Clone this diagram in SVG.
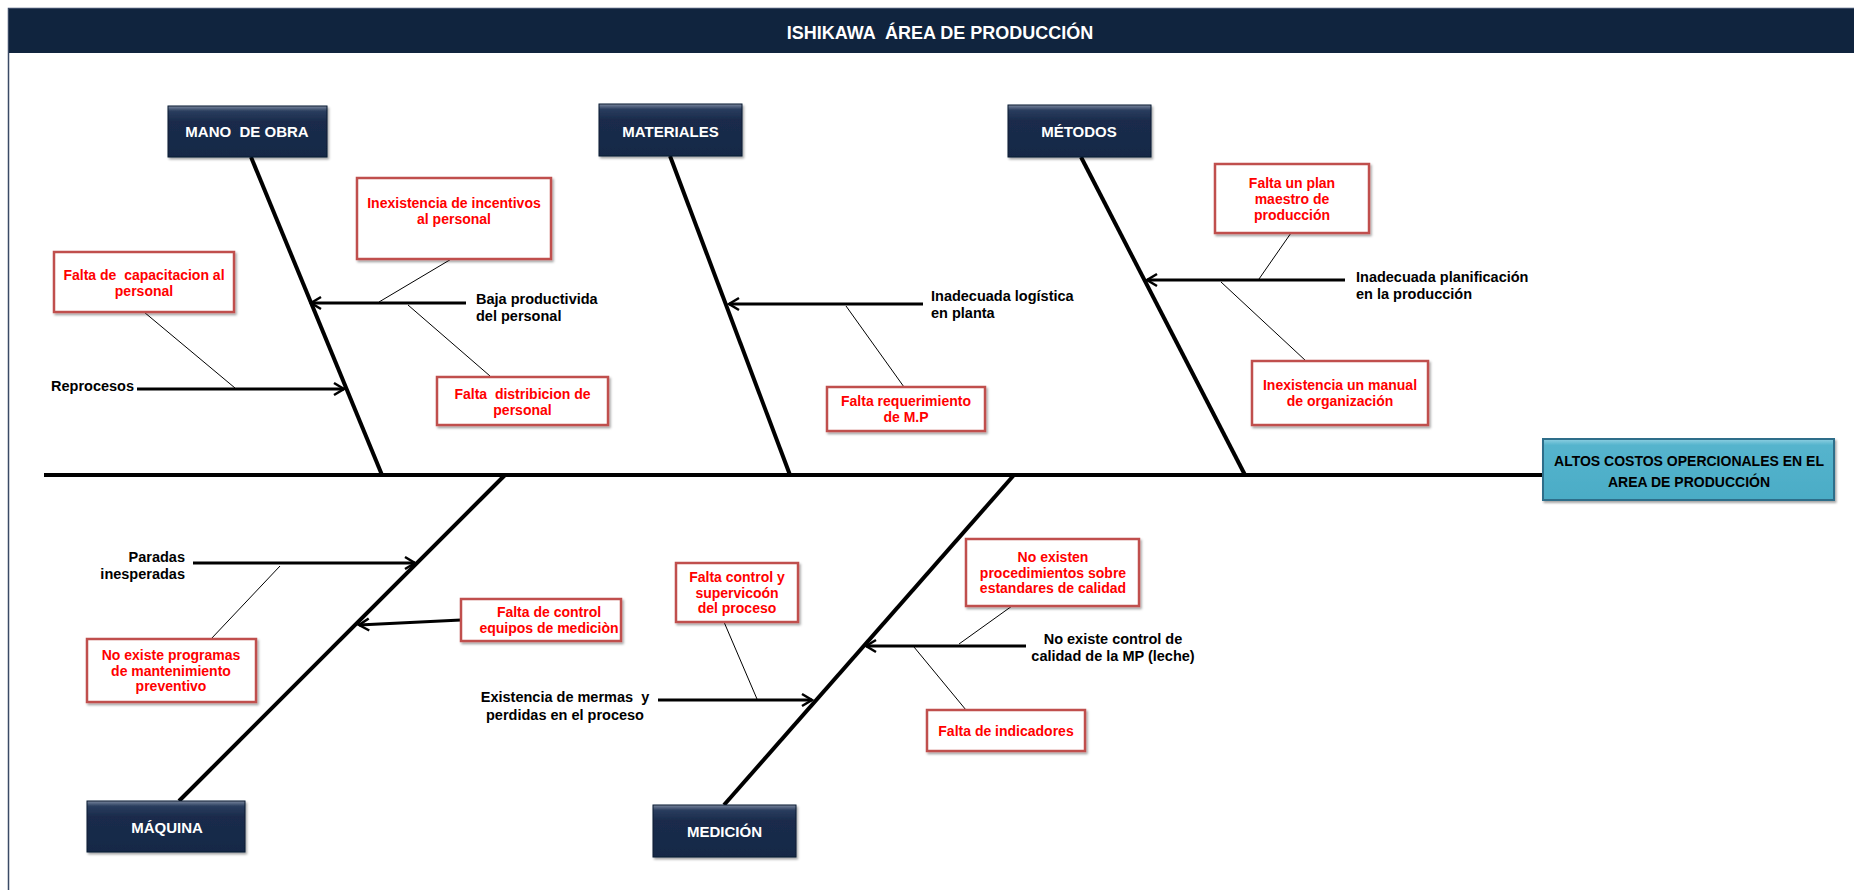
<svg xmlns="http://www.w3.org/2000/svg" width="1854" height="890" viewBox="0 0 1854 890">
<style>
text{font-family:"Liberation Sans",Arial,sans-serif;font-weight:bold;white-space:pre}
.cat rect{fill:url(#catGrad);stroke:#0d1a30;stroke-width:1}
.cat text{fill:#fff;font-size:15px;text-anchor:middle}
.cause rect{fill:#fff;stroke:#C0504D;stroke-width:2.5}
.cause text{fill:#FF0000;font-size:14px;text-anchor:middle}
.lbl{fill:#000;font-size:14.5px}
.bone{stroke:#000;stroke-width:4;fill:none;stroke-linecap:butt}
.arrow{stroke:#000;stroke-width:3;fill:none;marker-end:url(#ah)}
.thin{stroke:#000;stroke-width:1;fill:none}
</style>
<defs>
<linearGradient id="catGrad" x1="0" y1="0" x2="0" y2="1">
<stop offset="0" stop-color="#7a889f"/>
<stop offset="0.1" stop-color="#2a3d5e"/>
<stop offset="0.3" stop-color="#1a2c4c"/>
<stop offset="1" stop-color="#172846"/>
</linearGradient>
<linearGradient id="effGrad" x1="0" y1="0" x2="0" y2="1">
<stop offset="0" stop-color="#8fd0e2"/>
<stop offset="0.1" stop-color="#55b4cd"/>
<stop offset="1" stop-color="#4BACC6"/>
</linearGradient>
<filter id="sh" x="-10%" y="-10%" width="130%" height="140%">
<feDropShadow dx="1.5" dy="2" stdDeviation="1.2" flood-color="#000" flood-opacity="0.35"/>
</filter>
<marker id="ah" viewBox="-13 -8 15 16" markerWidth="15" markerHeight="16" refX="0" refY="0" orient="auto" markerUnits="userSpaceOnUse">
<path d="M-10,-6 L0,0 L-10,6" fill="none" stroke="#000" stroke-width="2.5"/>
</marker>
</defs>
<rect x="0" y="0" width="1854" height="890" fill="#fff"/>
<rect x="8.5" y="8.5" width="1860" height="900" fill="none" stroke="#3a4a66" stroke-width="1.5"/>
<g id="title">
<rect x="9" y="9" width="1845" height="44" fill="#10243E"/>
<text x="940" y="39" fill="#fff" font-size="18" text-anchor="middle">ISHIKAWA  ÁREA DE PRODUCCIÓN</text>
</g>
<g id="connectors">
<line class="bone" x1="44" y1="475" x2="1543" y2="475"/>
<line class="bone" x1="251" y1="157" x2="382" y2="475"/>
<line class="bone" x1="670" y1="156" x2="790" y2="475"/>
<line class="bone" x1="1081" y1="157" x2="1245" y2="475"/>
<line class="bone" x1="505" y1="475" x2="179" y2="801"/>
<line class="bone" x1="1014" y1="475" x2="724" y2="805"/>
<line class="arrow" x1="466" y1="303" x2="311" y2="303"/>
<line class="arrow" x1="137" y1="389" x2="344" y2="389"/>
<line class="arrow" x1="923" y1="304" x2="729" y2="304"/>
<line class="arrow" x1="1345" y1="280" x2="1147" y2="280"/>
<line class="arrow" x1="193" y1="563" x2="415" y2="563"/>
<line class="arrow" x1="461" y1="620" x2="359" y2="625"/>
<line class="arrow" x1="658" y1="700" x2="812" y2="700"/>
<line class="arrow" x1="1026" y1="646" x2="866" y2="646"/>
<line class="thin" x1="453" y1="258" x2="379" y2="302"/>
<line class="thin" x1="490" y1="376" x2="408" y2="305"/>
<line class="thin" x1="144" y1="312" x2="235" y2="388"/>
<line class="thin" x1="904" y1="387" x2="846" y2="306"/>
<line class="thin" x1="1291" y1="233" x2="1259" y2="279"/>
<line class="thin" x1="1221" y1="282" x2="1306" y2="361"/>
<line class="thin" x1="280" y1="566" x2="211" y2="639"/>
<line class="thin" x1="724" y1="622" x2="757" y2="699"/>
<line class="thin" x1="1012" y1="606" x2="959" y2="644"/>
<line class="thin" x1="914" y1="647" x2="966" y2="710"/>
</g>
<g id="cat-mano" class="cat"><rect x="168" y="106" width="159" height="51" filter="url(#sh)"/><text x="247" y="137">MANO  DE OBRA</text></g>
<g id="cat-materiales" class="cat"><rect x="599" y="104" width="143" height="52" filter="url(#sh)"/><text x="670.5" y="137">MATERIALES</text></g>
<g id="cat-metodos" class="cat"><rect x="1008" y="105" width="143" height="52" filter="url(#sh)"/><text x="1079" y="137">MÉTODOS</text></g>
<g id="cat-maquina" class="cat"><rect x="87" y="801" width="158" height="51" filter="url(#sh)"/><text x="167" y="833">MÁQUINA</text></g>
<g id="cat-medicion" class="cat"><rect x="653" y="805" width="143" height="52" filter="url(#sh)"/><text x="724.5" y="837">MEDICIÓN</text></g>
<g id="effect">
<rect x="1543" y="439" width="291" height="61" fill="url(#effGrad)" stroke="#2F6E8A" stroke-width="2" filter="url(#sh)"/>
<text x="1689" y="466" font-size="14" fill="#000" text-anchor="middle">ALTOS COSTOS OPERCIONALES EN EL</text>
<text x="1689" y="487" font-size="14" fill="#000" text-anchor="middle">AREA DE PRODUCCIÓN</text>
</g>
<g id="c-capacitacion" class="cause"><rect x="54" y="252" width="180" height="60" filter="url(#sh)"/><text x="144" y="280">Falta de  capacitacion al</text><text x="144" y="296">personal</text></g>
<g id="c-incentivos" class="cause"><rect x="357" y="178" width="194" height="81" filter="url(#sh)"/><text x="454" y="207.5">Inexistencia de incentivos</text><text x="454" y="224">al personal</text></g>
<g id="c-distribucion" class="cause"><rect x="437" y="377" width="171" height="48" filter="url(#sh)"/><text x="522.5" y="398.5">Falta  distribicion de</text><text x="522.5" y="415">personal</text></g>
<g id="c-requerimiento" class="cause"><rect x="827" y="387" width="158" height="44" filter="url(#sh)"/><text x="906" y="406">Falta requerimiento</text><text x="906" y="422">de M.P</text></g>
<g id="c-plan" class="cause"><rect x="1215" y="164" width="154" height="69" filter="url(#sh)"/><text x="1292" y="188">Falta un plan</text><text x="1292" y="204">maestro de</text><text x="1292" y="220">producción</text></g>
<g id="c-manual" class="cause"><rect x="1252" y="361" width="176" height="64" filter="url(#sh)"/><text x="1340" y="390">Inexistencia un manual</text><text x="1340" y="406">de organización</text></g>
<g id="c-mantenimiento" class="cause"><rect x="87" y="639" width="169" height="63" filter="url(#sh)"/><text x="171" y="660">No existe programas</text><text x="171" y="676">de mantenimiento</text><text x="171" y="691">preventivo</text></g>
<g id="c-equipos" class="cause"><rect x="461" y="599" width="160" height="42" filter="url(#sh)"/><text x="549" y="617">Falta de control</text><text x="549" y="633">equipos de mediciòn</text></g>
<g id="c-supervision" class="cause"><rect x="676" y="563" width="122" height="59" filter="url(#sh)"/><text x="737" y="582">Falta control y</text><text x="737" y="598">supervicoón</text><text x="737" y="613">del proceso</text></g>
<g id="c-estandares" class="cause"><rect x="966" y="539" width="173" height="67" filter="url(#sh)"/><text x="1053" y="562">No existen</text><text x="1053" y="578">procedimientos sobre</text><text x="1053" y="593">estandares de calidad</text></g>
<g id="c-indicadores" class="cause"><rect x="927" y="710" width="158" height="41" filter="url(#sh)"/><text x="1006" y="736">Falta de indicadores</text></g>
<g id="l-baja"><text class="lbl" x="476" y="304">Baja productivida</text><text class="lbl" x="476" y="321">del personal</text></g>
<g id="l-reprocesos"><text class="lbl" x="51" y="391">Reprocesos</text></g>
<g id="l-logistica"><text class="lbl" x="931" y="301">Inadecuada logística</text><text class="lbl" x="931" y="318">en planta</text></g>
<g id="l-planificacion"><text class="lbl" x="1356" y="282">Inadecuada planificación</text><text class="lbl" x="1356" y="299">en la producción</text></g>
<g id="l-paradas"><text class="lbl" x="185" y="562" text-anchor="end">Paradas</text><text class="lbl" x="185" y="579" text-anchor="end">inesperadas</text></g>
<g id="l-mermas"><text class="lbl" x="565" y="702" text-anchor="middle">Existencia de mermas  y</text><text class="lbl" x="565" y="720" text-anchor="middle">perdidas en el proceso</text></g>
<g id="l-calidad"><text class="lbl" x="1113" y="644" text-anchor="middle">No existe control de</text><text class="lbl" x="1113" y="661" text-anchor="middle">calidad de la MP (leche)</text></g>
</svg>
